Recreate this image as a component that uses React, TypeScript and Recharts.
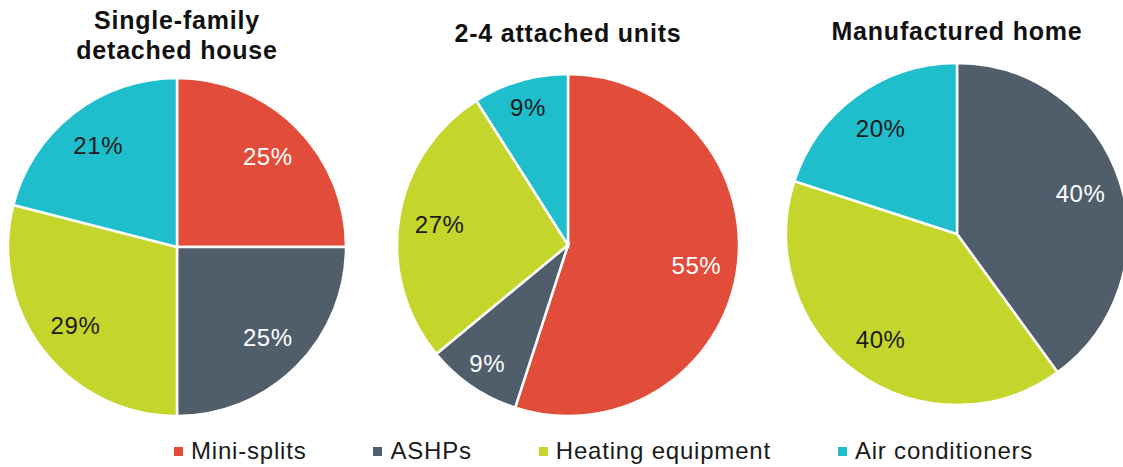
import React from 'react';
import { PieChart, Pie, Cell } from 'recharts';

const categories = ['Mini-splits', 'ASHPs', 'Heating equipment', 'Air conditioners'];
const colors = ['#E24C3A', '#505E6C', '#C4D62C', '#1EBECC'];
const labelColors = ['#ffffff', '#ffffff', '#1a1a1a', '#1a1a1a'];

const singleFamilyValues = [25, 25, 29, 21];
const attachedValues = [55, 9, 27, 9];
const manufacturedValues = [0, 40, 40, 20];

const titles = [['Single-family', 'detached house'], ['2-4 attached units'], ['Manufactured home']];

const FONT = "'Liberation Sans', Arial, Helvetica, sans-serif";
const RAD = Math.PI / 180;

const pies = [
  { values: singleFamilyValues, cx: 177, cy: 247, r: 169, titleTop: 5 },
  { values: attachedValues, cx: 568, cy: 245, r: 171, titleTop: 18 },
  { values: manufacturedValues, cx: 957, cy: 234, r: 171, titleTop: 16 },
];

const toData = (values: number[]) => categories.map((name, i) => ({ name, value: values[i] }));

const renderLabel = (props: any) => {
  const { cx, cy, midAngle, outerRadius, value, index, percent } = props;
  if (!value) return null;
  const r = outerRadius * (percent < 0.15 ? 0.84 : 0.76);
  const x = cx + r * Math.cos(-midAngle * RAD);
  const y = cy + r * Math.sin(-midAngle * RAD);
  return (
    <text
      x={x}
      y={y}
      fill={labelColors[index]}
      textAnchor="middle"
      dominantBaseline="central"
      fontFamily={FONT}
      fontSize={24}
      letterSpacing={0.6}
    >
      {`${value}%`}
    </text>
  );
};

export default function App() {
  return (
    <div
      style={{
        position: 'absolute',
        left: 0,
        top: 0,
        width: 1123,
        height: 467,
        overflow: 'hidden',
        background: '#ffffff',
      }}
    >
      <PieChart width={1123} height={467} margin={{ top: 0, right: 0, bottom: 0, left: 0 }}>
        {pies.map((p, pi) => (
          <Pie
            key={pi}
            data={toData(p.values)}
            dataKey="value"
            nameKey="name"
            cx={p.cx}
            cy={p.cy}
            outerRadius={p.r}
            innerRadius={0}
            startAngle={90}
            endAngle={-270}
            stroke="#ffffff"
            strokeWidth={2.5}
            label={renderLabel}
            labelLine={false}
            isAnimationActive={false}
          >
            {categories.map((c, i) => (
              <Cell key={c} fill={colors[i]} />
            ))}
          </Pie>
        ))}
      </PieChart>

      {pies.map((p, pi) => (
        <div
          key={'t' + pi}
          style={{
            position: 'absolute',
            left: p.cx - 160,
            width: 320,
            top: p.titleTop,
            textAlign: 'center',
            fontFamily: FONT,
            fontWeight: 'bold',
            fontSize: 25,
            lineHeight: '30px',
            letterSpacing: 0.8,
            color: '#111111',
          }}
        >
          {titles[pi].map((line) => (
            <div key={line}>{line}</div>
          ))}
        </div>
      ))}

      <div
        style={{
          position: 'absolute',
          left: 174,
          top: 437,
          height: 28,
          display: 'flex',
          alignItems: 'center',
          fontFamily: FONT,
          fontSize: 24,
          lineHeight: '28px',
          letterSpacing: 0.8,
          color: '#1a1a1a',
          whiteSpace: 'nowrap',
        }}
      >
        {categories.map((c, i) => (
          <div
            key={c}
            style={{ display: 'flex', alignItems: 'center', marginRight: i < categories.length - 1 ? 67 : 0 }}
          >
            <div style={{ width: 9, height: 9, background: colors[i], marginRight: 8 }} />
            <span>{c}</span>
          </div>
        ))}
      </div>
    </div>
  );
}
